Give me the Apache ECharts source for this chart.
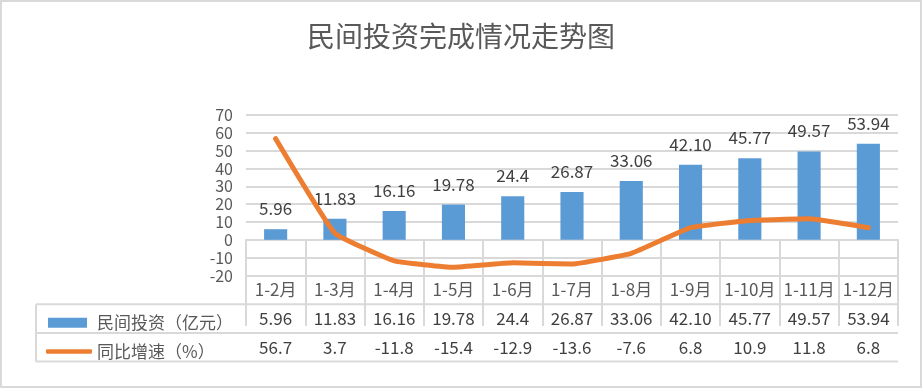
<!DOCTYPE html>
<html>
<head>
<meta charset="utf-8">
<script src="https://cdn.jsdelivr.net/npm/echarts@6/dist/echarts.min.js"></script>
<style>
html,body{margin:0;padding:0;background:#fff;}
#c{width:922px;height:388px;}
</style>
</head>
<body>
<div id="c"></div>
<script>
const categories = ['1-2月','1-3月','1-4月','1-5月','1-6月','1-7月','1-8月','1-9月','1-10月','1-11月','1-12月'];
const investment = ['5.96','11.83','16.16','19.78','24.4','26.87','33.06','42.10','45.77','49.57','53.94'];
const growth = ['56.7','3.7','-11.8','-15.4','-12.9','-13.6','-7.6','6.8','10.9','11.8','6.8'];
const yTicks = [-20, -10, 0, 10, 20, 30, 40, 50, 60, 70];

const FONT = '"Noto Sans CJK SC", "Microsoft YaHei", sans-serif';
const GRID_L = 246, GRID_R = 898, AXIS_Y = 275.5;
const ROW_H = 28.7;
const TABLE_COLOR = '#d9d9d9';

const chart = echarts.init(document.getElementById('c'), null, {renderer: 'canvas'});

const tableLines = [];
[AXIS_Y + ROW_H, AXIS_Y + ROW_H * 2, AXIS_Y + ROW_H * 3].forEach(y => {
  tableLines.push({type: 'line', silent: true, shape: {x1: 36, y1: y, x2: GRID_R, y2: y},
    style: {stroke: TABLE_COLOR, lineWidth: 2}});
});
tableLines.push({type: 'line', silent: true, shape: {x1: 36, y1: AXIS_Y + ROW_H, x2: 36, y2: AXIS_Y + ROW_H * 3},
  style: {stroke: TABLE_COLOR, lineWidth: 2}});
tableLines.push({type: 'rect', silent: true, shape: {x: 1, y: 1, width: 920, height: 386},
  style: {fill: 'none', stroke: '#d9d9d9', lineWidth: 2}, z: -1});

chart.setOption({
  animation: false,
  backgroundColor: '#fff',
  title: {
    text: '民间投资完成情况走势图',
    left: 'center',
    top: 17,
    textStyle: {fontFamily: FONT, fontSize: 28, fontWeight: 'normal', color: '#595959'}
  },
  legend: [
    {
      data: [{name: '民间投资（亿元）', icon: 'rect'}],
      left: 43, top: AXIS_Y + ROW_H + 5,
      itemWidth: 39, itemHeight: 10,
      textStyle: {fontFamily: FONT, fontSize: 17, color: '#595959', padding: [0, 0, 0, 5]},
      selectedMode: false
    },
    {
      data: [{name: '同比增速（%）', icon: 'roundRect'}],
      left: 41, top: AXIS_Y + ROW_H * 2 + 5,
      itemWidth: 46, itemHeight: 4.5,
      textStyle: {fontFamily: FONT, fontSize: 17, color: '#595959', padding: [0, 0, 0, 0]},
      selectedMode: false
    }
  ],
  grid: {left: GRID_L, right: 922 - GRID_R, top: 115, bottom: 388 - AXIS_Y, containLabel: false},
  xAxis: {
    type: 'category',
    data: categories,
    boundaryGap: true,
    axisLine: {show: true, lineStyle: {color: TABLE_COLOR, width: 2}},
    axisTick: {show: true, interval: 0, alignWithLabel: false, length: ROW_H * 3, lineStyle: {color: TABLE_COLOR, width: 2}},
    axisLabel: {
      interval: 0,
      margin: 0,
      formatter: (v, i) => '{a|' + v + '}\n{b|' + investment[i] + '}\n{b|' + growth[i] + '}',
      rich: {
        a: {fontFamily: FONT, fontSize: 17, color: '#595959', lineHeight: ROW_H, align: 'center'},
        b: {fontFamily: FONT, fontSize: 17, color: '#404040', lineHeight: ROW_H, align: 'center'}
      }
    },
    splitLine: {show: false}
  },
  yAxis: {
    type: 'value',
    min: yTicks[0],
    max: yTicks[yTicks.length - 1],
    interval: 10,
    axisLine: {show: false},
    axisTick: {show: false},
    axisLabel: {fontFamily: FONT, fontSize: 16, color: '#595959', margin: 13},
    splitLine: {show: true, lineStyle: {color: TABLE_COLOR, width: 2}}
  },
  series: [
    {
      name: '民间投资（亿元）',
      type: 'bar',
      data: investment.map(Number),
      barWidth: '39%',
      itemStyle: {color: '#5B9BD5'},
      label: {
        show: true,
        position: 'top',
        distance: 12,
        formatter: p => investment[p.dataIndex],
        fontFamily: FONT, fontSize: 17, color: '#404040'
      },
      z: 2
    },
    {
      name: '同比增速（%）',
      type: 'line',
      data: growth.map(Number),
      symbol: 'none',
      smooth: 0.1,
      lineStyle: {color: '#ED7D31', width: 5, cap: 'round', join: 'round'},
      itemStyle: {color: '#ED7D31'},
      z: 3
    }
  ],
  graphic: tableLines
});
</script>
</body>
</html>
